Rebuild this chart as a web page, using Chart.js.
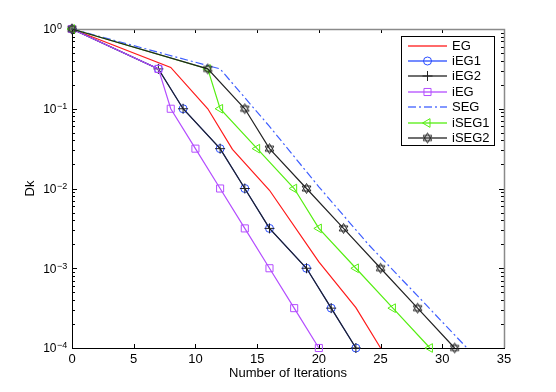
<!DOCTYPE html>
<html>
<head>
<meta charset="utf-8">
<script src="https://cdn.jsdelivr.net/npm/chart.js@4"></script>
<style>
  html, body { margin: 0; padding: 0; background: #fff; }
</style>
</head>
<body>
<canvas id="dkChart" width="556" height="392"></canvas>
<script>
// values
const egIter = [0, 8, 11, 13, 16, 20, 23, 25];
const egVal = [1, 0.33, 0.1, 0.031, 0.0095, 0.0012, 0.00032, 0.0001];

const iegAIter = [0, 7, 9, 12, 14, 16, 19, 21, 23];
const iegAVal = [1, 0.316, 0.1, 0.0316, 0.01, 0.00316, 0.001, 0.000316, 0.0001];

const iegIter = [0, 7, 8, 10, 12, 14, 16, 18, 20];
const iegVal = [1, 0.316, 0.1, 0.0316, 0.01, 0.00316, 0.001, 0.000316, 0.0001];

const segIter = [0, 12, 16, 20, 24, 28, 32];
const segVal = [1, 0.316, 0.06, 0.0105, 0.002, 0.00045, 0.0001];

const iseg1Iter = [0, 11, 12, 15, 18, 20, 23, 26, 29];
const iseg1Val = [1, 0.316, 0.1, 0.0316, 0.01, 0.00316, 0.001, 0.000316, 0.0001];

const iseg2Iter = [0, 11, 14, 16, 19, 22, 25, 28, 31];
const iseg2Val = [1, 0.316, 0.1, 0.0316, 0.01, 0.00316, 0.001, 0.000316, 0.0001];

const seriesNames = ["EG", "iEG1", "iEG2", "iEG", "SEG", "iSEG1", "iSEG2"];
const seriesColors = ["#ff1a1a", "#2a4dff", "#222222", "#b44dff", "#3f5fff", "#55ee11", "#222222"];

const xTicks = [0, 5, 10, 15, 20, 25, 30, 35];
const yTicks = [1, 0.1, 0.01, 0.001, 0.0001];
const yExp = ["0", "\u22121", "\u22122", "\u22123", "\u22124"];

const FONT = "'Liberation Sans', Arial, Helvetica, sans-serif";

const pts = (xs, ys) => xs.map((x, i) => ({ x: x, y: ys[i] }));

// hexagram marker (not built into Chart.js)
function hexagram() {
  const c = document.createElement("canvas");
  c.width = 13; c.height = 13;
  const g = c.getContext("2d");
  const cx = 6.5, cy = 6.5, r = 5;
  g.strokeStyle = "#222";
  g.lineWidth = 1;
  [-90, 90].forEach((start) => {
    g.beginPath();
    for (let k = 0; k < 3; k++) {
      const a = (start + k * 120) * Math.PI / 180;
      const px = cx + r * Math.cos(a), py = cy + r * Math.sin(a);
      if (k === 0) g.moveTo(px, py); else g.lineTo(px, py);
    }
    g.closePath();
    g.stroke();
  });
  return c;
}

const none = "rgba(0,0,0,0)";

const series = [
  { data: pts(egIter, egVal), pointRadius: 0, pointStyle: false },
  { data: pts(iegAIter, iegAVal), pointStyle: "circle", pointRadius: 4 },
  { data: pts(iegAIter, iegAVal), pointStyle: "cross", pointRadius: 5 },
  { data: pts(iegIter, iegVal), pointStyle: "rect", pointRadius: 5 },
  { data: pts(segIter, segVal), borderDash: [8, 3, 2, 3], pointRadius: 0, pointStyle: false },
  { data: pts(iseg1Iter, iseg1Val), pointStyle: "triangle", pointRotation: -90, pointRadius: 5 },
  { data: pts(iseg2Iter, iseg2Val), pointStyle: hexagram(), pointRadius: 5 },
];

// Chart.js paints the first dataset last, so reverse the order like matlab
const datasets = series.map((d, i) => Object.assign({
  label: seriesNames[i],
  borderColor: seriesColors[i],
  pointBorderColor: seriesColors[i],
  pointBackgroundColor: none,
  borderWidth: 1.2,
  pointBorderWidth: 1,
  fill: false,
  clip: false,
  order: series.length - i,
}, d));

// matlab-like box, inward ticks, axis labels and legend
const axesPlugin = {
  id: "matlabAxes",
  beforeDatasetsDraw(chart) {
    const { ctx, chartArea: a, scales: { x, y } } = chart;
    ctx.save();
    ctx.lineWidth = 1;
    ctx.strokeStyle = "#000";
    ctx.beginPath();
    xTicks.forEach((v) => {
      const px = Math.round(x.getPixelForValue(v)) + 0.5;
      ctx.moveTo(px, a.bottom); ctx.lineTo(px, a.bottom - 4);
      ctx.moveTo(px, a.top); ctx.lineTo(px, a.top + 4);
    });
    for (let e = -4; e <= 0; e++) {
      for (let m = 1; m <= 9; m++) {
        const v = m * Math.pow(10, e);
        if (v > 1) break;
        const py = Math.round(y.getPixelForValue(v)) + 0.5;
        const len = m === 1 ? 5 : 3;
        ctx.moveTo(a.left, py); ctx.lineTo(a.left + len, py);
        ctx.moveTo(a.right, py); ctx.lineTo(a.right - len, py);
      }
    }
    ctx.stroke();

    // box: top/right grey, left/bottom black
    ctx.strokeStyle = "#8a8a8a";
    ctx.lineWidth = 1.5;
    ctx.beginPath();
    ctx.moveTo(a.left, a.top + 0.5); ctx.lineTo(a.right + 0.5, a.top + 0.5); ctx.lineTo(a.right + 0.5, a.bottom);
    ctx.stroke();
    ctx.strokeStyle = "#000";
    ctx.lineWidth = 1;
    ctx.beginPath();
    ctx.moveTo(a.left + 0.5, a.top); ctx.lineTo(a.left + 0.5, a.bottom + 0.5); ctx.lineTo(a.right + 1, a.bottom + 0.5);
    ctx.stroke();

    // y tick labels as 10 with superscript exponent
    ctx.fillStyle = "#000";
    ctx.textBaseline = "alphabetic";
    yTicks.forEach((v, i) => {
      const py = y.getPixelForValue(v);
      ctx.font = "12px " + FONT;
      ctx.textAlign = "right";
      ctx.fillText("10", a.left - 15.5, py + 4.3);
      ctx.font = "9px " + FONT;
      ctx.textAlign = "left";
      ctx.fillText(yExp[i], a.left - 15, py + 0.3);
    });

    // axis titles
    ctx.font = "13px " + FONT;
    ctx.textAlign = "center";
    ctx.textBaseline = "middle";
    ctx.fillText("Number of Iterations", (a.left + a.right) / 2, 373);
    ctx.save();
    ctx.translate(30, (a.top + a.bottom) / 2);
    ctx.rotate(-Math.PI / 2);
    ctx.fillText("Dk", 0, 0);
    ctx.restore();
    ctx.restore();
  },
  afterDraw(chart) {
    const { ctx } = chart;
    const bx = 401.5, by = 36.5, bw = 93, bh = 109;
    ctx.save();
    ctx.fillStyle = "#fff";
    ctx.fillRect(bx, by, bw, bh);
    ctx.strokeStyle = "#000";
    ctx.lineWidth = 1;
    ctx.strokeRect(bx, by, bw, bh);
    series.forEach((d, i) => {
      const ry = Math.round(44.5 + i * 15.4);
      // sample line, soft 2px like the anti-aliased original
      ctx.fillStyle = seriesColors[i];
      ctx.globalAlpha = 0.65;
      const dash = d.borderDash || [39, 0];
      let xx = 408, k = 0;
      while (xx < 447) {
        const len = Math.min(dash[k % dash.length], 447 - xx);
        if (k % 2 === 0) ctx.fillRect(xx, ry, len, 2);
        xx += dash[k % dash.length];
        k++;
      }
      ctx.globalAlpha = 1;
      if (d.pointStyle) {
        ctx.strokeStyle = seriesColors[i];
        ctx.fillStyle = none;
        Chart.helpers.drawPoint(ctx, {
          pointStyle: d.pointStyle,
          radius: d.pointRadius,
          rotation: d.pointRotation || 0,
          borderWidth: 1,
        }, 427.5, ry + 1);
      }
      ctx.fillStyle = "#000";
      ctx.font = "13px " + FONT;
      ctx.textAlign = "left";
      ctx.textBaseline = "middle";
      ctx.fillText(seriesNames[i], 452, ry + 1);
    });
    ctx.restore();
  },
};

const ctx = document.getElementById("dkChart").getContext("2d");
new Chart(ctx, {
  type: "line",
  data: { datasets: datasets },
  options: {
    responsive: false,
    animation: false,
    layout: { padding: { top: 29, right: 52, left: 0, bottom: 0 } },
    plugins: { legend: { display: false }, tooltip: { enabled: false } },
    elements: { line: { tension: 0 } },
    scales: {
      x: {
        type: "linear",
        min: 0,
        max: 35,
        afterBuildTicks: (s) => { s.ticks = xTicks.map((v) => ({ value: v })); },
        ticks: { color: "#000", font: { family: FONT, size: 13 }, padding: 4, maxRotation: 0 },
        grid: { display: false, drawTicks: false },
        border: { display: false },
        afterFit: (s) => { s.height = 44; },
      },
      y: {
        type: "logarithmic",
        min: 0.0001,
        max: 1,
        ticks: { display: false },
        grid: { display: false, drawTicks: false },
        border: { display: false },
        afterFit: (s) => { s.width = 72; },
      },
    },
  },
  plugins: [axesPlugin],
});
</script>
</body>
</html>
